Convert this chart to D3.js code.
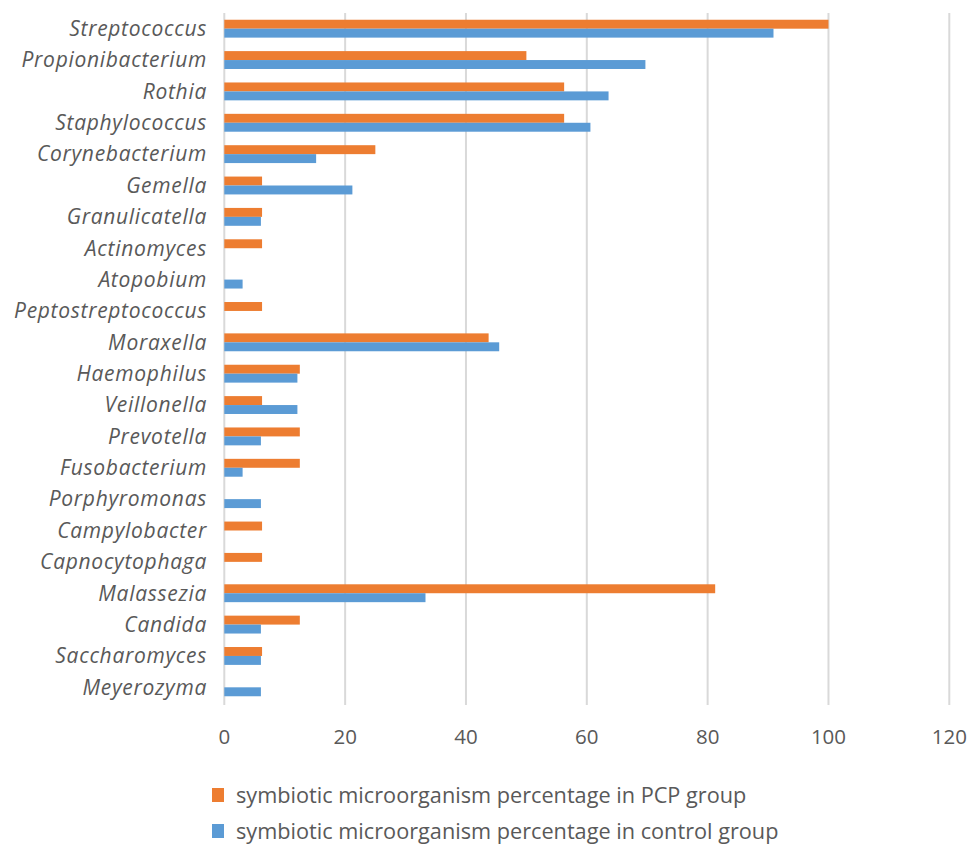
<!DOCTYPE html>
<html lang="en">
<head>
    <meta charset="UTF-8">
    <title>Symbiotic microorganisms</title>
    <style>
        body, html { margin: 0; background: #fff; }
        svg { display: block; }
        text { font-family: "Open Sans", Lato, sans-serif; fill: #595959; }
        .cat text { font-style: italic; font-size: 21px; letter-spacing: 0.7px; }
        .xaxis text { font-size: 20.5px; }
        .legend text { font-size: 21.7px; }
    </style>
</head>
<body>
    <svg width="969" height="844"></svg>

    <script src="https://d3js.org/d3.v7.min.js"></script>
    <script>
        // genus names, top to bottom
        const genera = ["Streptococcus", "Propionibacterium", "Rothia", "Staphylococcus", "Corynebacterium",
            "Gemella", "Granulicatella", "Actinomyces", "Atopobium", "Peptostreptococcus", "Moraxella",
            "Haemophilus", "Veillonella", "Prevotella", "Fusobacterium", "Porphyromonas", "Campylobacter",
            "Capnocytophaga", "Malassezia", "Candida", "Saccharomyces", "Meyerozyma"];

        // % in PCP group
        const pcpValues = [100, 50, 56.25, 56.25, 25, 6.25, 6.25, 6.25, 0, 6.25, 43.75,
            12.5, 6.25, 12.5, 12.5, 0, 6.25, 6.25, 81.25, 12.5, 6.25, 0];

        // % in control group
        const controlValues = [90.9, 69.7, 63.6, 60.6, 15.2, 21.2, 6.06, 0, 3.03, 0, 45.5,
            12.1, 12.1, 6.06, 3.03, 6.06, 0, 0, 33.3, 6.06, 6.06, 6.06];

        const seriesNames = ["symbiotic microorganism percentage in PCP group",
            "symbiotic microorganism percentage in control group"];
        const seriesColors = ["#ED7D31", "#5B9BD5"];
        const xTicks = [0, 20, 40, 60, 80, 100, 120];

        const svg = d3.select("svg");
        const plot = { left: 224.3, right: 949.3, top: 13, bottom: 703 };

        const x = d3.scaleLinear().domain([0, 120]).range([plot.left, plot.right]);
        const y = d3.scaleBand().domain(genera).range([plot.top, plot.bottom]).paddingInner(0.43).paddingOuter(0.215);
        const sub = d3.scaleBand().domain([0, 1]).range([0, y.bandwidth()]);

        // vertical gridlines
        svg.append("g").selectAll("line")
            .data(xTicks)
            .join("line")
            .attr("x1", d => x(d)).attr("x2", d => x(d))
            .attr("y1", plot.top).attr("y2", plot.bottom + 2)
            .attr("stroke", "#d9d9d9")
            .attr("stroke-width", 2);

        // bars
        const rows = genera.map((g, i) => ({ g: g, vals: [pcpValues[i], controlValues[i]] }));
        const rowG = svg.append("g").selectAll("g")
            .data(rows)
            .join("g")
            .attr("transform", d => `translate(0,${y(d.g)})`);

        rowG.selectAll("rect")
            .data(d => d.vals.map((v, k) => ({ v: v, k: k })))
            .join("rect")
            .filter(d => d.v > 0)
            .attr("x", x(0))
            .attr("y", d => sub(d.k))
            .attr("width", d => x(d.v) - x(0))
            .attr("height", sub.bandwidth())
            .attr("fill", d => seriesColors[d.k]);

        // category labels
        svg.append("g").attr("class", "cat").selectAll("text")
            .data(genera)
            .join("text")
            .attr("x", 207)
            .attr("y", d => y(d) + y.bandwidth() / 2)
            .attr("dy", "0.35em")
            .attr("text-anchor", "end")
            .text(d => d);

        // x tick labels
        svg.append("g").attr("class", "xaxis").selectAll("text")
            .data(xTicks)
            .join("text")
            .attr("x", d => x(d))
            .attr("y", 737)
            .attr("dy", "0.35em")
            .attr("text-anchor", "middle")
            .text(d => d);

        // legend
        const leg = svg.append("g").attr("class", "legend").selectAll("g")
            .data(seriesNames)
            .join("g")
            .attr("transform", (d, i) => `translate(212,${795 + i * 36})`);
        leg.append("rect")
            .attr("x", 0).attr("y", -7)
            .attr("width", 12).attr("height", 14)
            .attr("fill", (d, i) => seriesColors[i]);
        leg.append("text")
            .attr("x", 24)
            .attr("dy", "0.35em")
            .text(d => d);
    </script>
</body>
</html>
